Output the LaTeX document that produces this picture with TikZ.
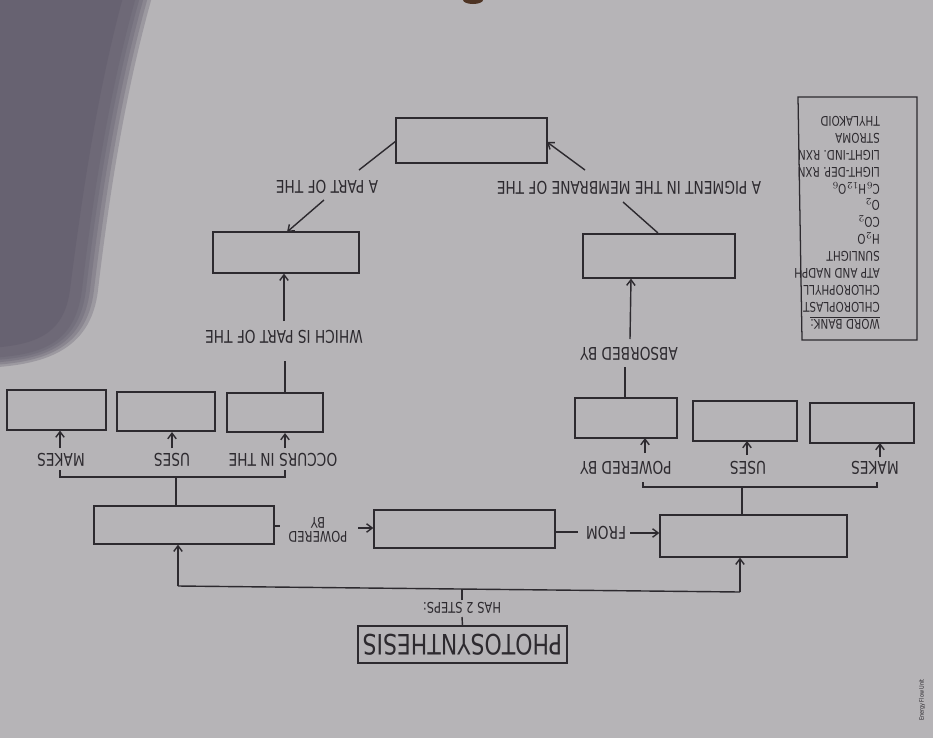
\documentclass[tikz,border=0pt]{standalone}
\usepackage{fontspec}
\setmainfont{DejaVu Sans}[FakeStretch=0.78]
\usetikzlibrary{arrows.meta,calc}
\definecolor{paper}{RGB}{182,180,183}
\definecolor{ink}{RGB}{45,42,47}
\definecolor{shadow}{RGB}{98,92,108}
\definecolor{hole}{RGB}{78,52,36}
\newcommand\mybox[5]{\node[box,minimum width=#4*0.025cm,minimum height=#5*0.025cm] (#1) at (#2,#3) {};}
\begin{document}
\begin{tikzpicture}[x=0.025cm,y=-0.025cm,
  box/.style={draw=ink,line width=0.9pt,inner sep=0pt},
  lab/.style={text=ink,rotate=180,font=\fontsize{12.5}{13}\selectfont,inner sep=0pt},
  con/.style={draw=ink,line width=1pt},
  arr/.style={con,-{Straight Barb[length=4pt,width=6pt,line width=1pt]}}]
\useasboundingbox (0,0) rectangle (933,738);
\clip (0,0) rectangle (933,738);
% background
\fill[paper] (0,0) rectangle (933,738);
\foreach \d in {16,12,8,4,0}{
  \fill[shadow,opacity=0.3] (-10,-10) -- (138+\d,-10) .. controls (112+\d,80) and (95+\d,180) .. (82+\d,290)
     .. controls (75+\d,345+\d*0.5) and (40,355+\d*0.6) .. (-10,358+\d*0.6) -- cycle;
}
\fill[shadow,opacity=0.5] (-10,-10) -- (125,-10) .. controls (100,80) and (84,180) .. (70,290)
     .. controls (64,335) and (35,345) .. (-10,348) -- cycle;
\fill[hole] (473,0) ellipse [x radius=10, y radius=4];

% title
\node[box,minimum width=209*0.025cm,minimum height=37*0.025cm,rotate=180,
      font=\fontsize{20}{22}\selectfont,text=ink] (title) at (462.5,644.5) {PHOTOSYNTHESIS};
\node[lab,font=\fontsize{10.5}{11}\selectfont] (has) at (462,608) {HAS 2 STEPS:};

% boxes
\mybox{L1}{184}{525}{180}{38}
\mybox{R1}{753.5}{536}{187}{42}
\mybox{M}{464.5}{529}{181}{38}
\mybox{A}{56.5}{410}{99}{40}
\mybox{B}{166}{411.5}{98}{39}
\mybox{C}{275}{412.5}{96}{39}
\mybox{D}{626}{418}{102}{40}
\mybox{E}{745}{421}{104}{40}
\mybox{F}{862}{423}{104}{40}
\mybox{LM}{286}{252.5}{146}{41}
\mybox{RM}{659}{256}{152}{44}
\mybox{T}{471.5}{140.5}{151}{45}

% word bank
\draw[ink,line width=0.9pt] (798,97) -- (917,97) -- (917,340) -- (802,340) -- cycle;
\node[text=ink,rotate=180,inner sep=0pt,align=left,font=\fontsize{9.5}{12}\selectfont]
  (bank) at (837,223) {\underline{WORD BANK:}\\[0.5pt]CHLOROPLAST\\CHLOROPHYLL\\ATP AND NADPH\\SUNLIGHT\\
  H$_2$O\\CO$_2$\\O$_2$\\C$_6$H$_{12}$O$_6$\\LIGHT-DEP. RXN\\LIGHT-IND. RXN\\STROMA\\THYLAKOID};

% small margin text
\node[text=ink,rotate=90,inner sep=0pt,font=\fontsize{4.5}{5}\selectfont] (unit) at (922,700) {Energy Flow Unit};

% two steps
\coordinate (j1) at (462,589);
\coordinate (jl) at (178,586);
\coordinate (jr) at (740,592);
\draw[con] (title.south) -- (462,617);
\draw[con] (462,600) -- (j1);
\draw[con] (jl) -- (jr);
\draw[arr] (jl) -- (jl |- L1.south);
\draw[arr] (jr) -- (jr |- R1.south);

% powered by / from
\node[lab,align=center,font=\fontsize{10.5}{10.5}\selectfont] (pb) at (318,530) {POWERED\\BY};
\draw[con] (L1.east |- 0,526) -- ++(5,0);
\draw[arr] (358,528) -- (M.west |- 0,528);
\node[lab] (from) at (606,533) {FROM};
\draw[con] (M.east |- 0,532) -- (578,532);
\draw[arr] (630,533) -- (R1.west |- 0,533);

% left bracket
\coordinate (bl) at (176,477);
\draw[con] (176,506) -- (bl);
\draw[con] (60,470) -- (60,477) -- (285,477) -- (285,470);
\node[lab] (lmakes) at (61,460) {MAKES};
\node[lab] (luses) at (172,460) {USES};
\node[lab] (loccurs) at (283,460) {OCCURS IN THE};
\draw[arr] (60,448) -- (60,430.5);
\draw[arr] (172,448) -- (172,432);
\draw[arr] (285,448) -- (285,433);

% right bracket
\coordinate (br) at (742,487);
\draw[con] (742,515) -- (br);
\draw[con] (643,482) -- (643,487) -- (877,487) -- (877,482);
\node[lab] (rpow) at (626,468) {POWERED BY};
\node[lab] (ruses) at (748,468) {USES};
\node[lab] (rmakes) at (875,468) {MAKES};
\draw[arr] (645,453) -- (645,438);
\draw[arr] (747,455) -- (747,441);
\draw[arr] (880,457) -- (880,443);

% upward chains
\node[lab] (which) at (284,337) {WHICH IS PART OF THE};
\draw[con] (285,393) -- (285,361);
\draw[arr] (284,321) -- (LM.south -| 284,0);
\node[lab] (absorbed) at (629,354) {ABSORBED BY};
\draw[con] (625,398) -- (625,367);
\draw[arr] (630,339) -- (RM.south -| 631,0);

% diagonals
\node[lab] (pigment) at (629,188) {A PIGMENT IN THE MEMBRANE OF THE};
\draw[con] (658,233) -- (623,202);
\draw[arr] (585,170) -- (547,142);
\node[lab] (part) at (327,187) {A PART OF THE};
\draw[con] (396,141) -- (359,170);
\draw[arr] (324,200) -- (287,232);
\end{tikzpicture}
\end{document}
